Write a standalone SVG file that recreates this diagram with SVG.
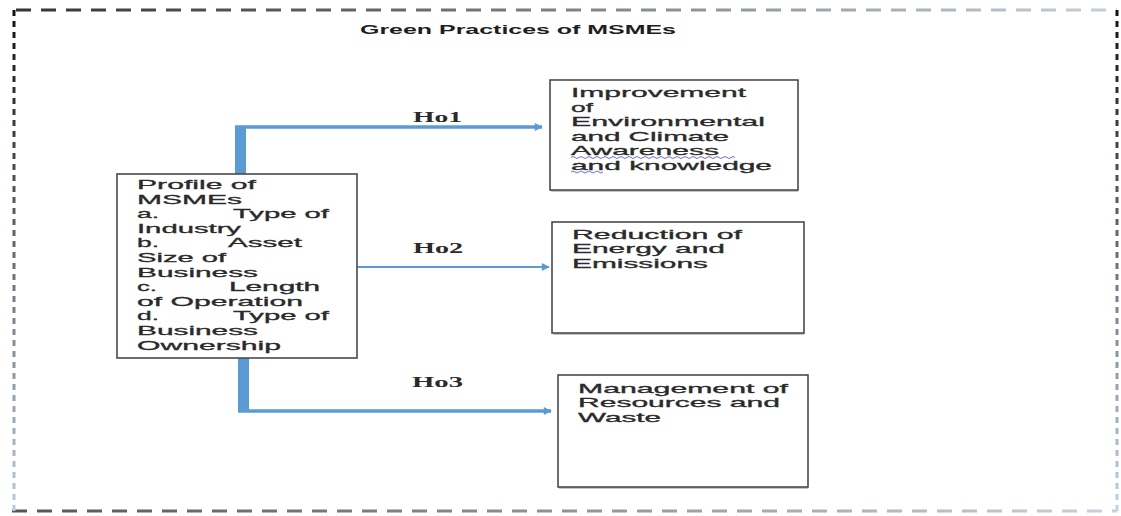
<svg xmlns="http://www.w3.org/2000/svg" width="1121" height="516" viewBox="0 0 1121 516">
<style>
.box{fill:#fff;stroke:#4a4a4a;stroke-width:1.6}
.shadow{fill:none;stroke:#c4c4c4;stroke-width:2}
.t{font-family:"Liberation Sans",Arial,sans-serif;font-size:13px;fill:#2a2a2a;stroke:#2a2a2a;stroke-width:0.3}
.ho{font-family:"Liberation Serif","Times New Roman",serif;font-size:14px;font-weight:bold;fill:#2a2a2a}
.title{font-family:"Liberation Sans",Arial,sans-serif;font-size:12px;font-weight:bold;fill:#1e1e1e}
.conn{stroke:#5b9bd5;fill:none}
.dash{fill:none;stroke-width:3}
</style>
<defs>
<linearGradient id="gTop" gradientUnits="userSpaceOnUse" x1="12" y1="0" x2="1117" y2="0"><stop offset="0" stop-color="#333"/><stop offset="1" stop-color="#c2d0dd"/></linearGradient>
<linearGradient id="gBot" gradientUnits="userSpaceOnUse" x1="12" y1="0" x2="1117" y2="0"><stop offset="0" stop-color="#555"/><stop offset="1" stop-color="#c8d2dc"/></linearGradient>
<linearGradient id="gLeft" gradientUnits="userSpaceOnUse" x1="0" y1="10" x2="0" y2="511"><stop offset="0" stop-color="#111"/><stop offset="1" stop-color="#b8cde2"/></linearGradient>
<linearGradient id="gRight" gradientUnits="userSpaceOnUse" x1="0" y1="10" x2="0" y2="511"><stop offset="0" stop-color="#111"/><stop offset="1" stop-color="#c0d4e8"/></linearGradient>
<marker id="arr" viewBox="0 0 10 10" refX="9" refY="5" markerWidth="10" markerHeight="8" markerUnits="userSpaceOnUse" orient="auto"><path d="M0,0 L10,5 L0,10 z" fill="#5b9bd5"/></marker>
</defs>

<g id="frame">
<path class="dash" d="M16,10 H1117" stroke="url(#gTop)" stroke-width="2.5" stroke-dasharray="15 10"/>
<path class="dash" d="M12,511 H1117" stroke="url(#gBot)" stroke-dasharray="15 10"/>
<path class="dash" d="M14,10 V511" stroke="url(#gLeft)" stroke-dasharray="6 5"/>
<path class="dash" d="M1117,10 V511" stroke="url(#gRight)" stroke-dasharray="6 5"/>
<text class="title" x="360" y="34" textLength="316" lengthAdjust="spacingAndGlyphs">Green Practices of MSMEs</text>
</g>

<g id="connectors">
<rect x="235" y="126" width="11" height="50" fill="#5b9bd5"/>
<rect x="238" y="356" width="11" height="56" fill="#5b9bd5"/>
<path class="conn" d="M235,127 H542" stroke-width="3.5" marker-end="url(#arr)"/>
<path class="conn" d="M357,267 H549" stroke-width="2" marker-end="url(#arr)"/>
<path class="conn" d="M238,411 H551" stroke-width="3.5" marker-end="url(#arr)"/>
<text class="ho" x="413" y="122" textLength="49" lengthAdjust="spacingAndGlyphs">Ho1</text>
<text class="ho" x="413" y="253" textLength="50" lengthAdjust="spacingAndGlyphs">Ho2</text>
<text class="ho" x="412" y="387" textLength="51" lengthAdjust="spacingAndGlyphs">Ho3</text>
</g>

<g id="profile">
<rect class="box" x="117" y="174" width="240" height="184"/>
<text class="t">
<tspan x="137" y="189" textLength="119" lengthAdjust="spacingAndGlyphs">Profile of</tspan>
<tspan x="137" y="203.6" textLength="105" lengthAdjust="spacingAndGlyphs">MSMEs</tspan>
<tspan x="137" y="218.2" textLength="22" lengthAdjust="spacingAndGlyphs">a.</tspan>
<tspan x="233" y="218.2" textLength="96" lengthAdjust="spacingAndGlyphs">Type of</tspan>
<tspan x="137" y="232.8" textLength="104" lengthAdjust="spacingAndGlyphs">Industry</tspan>
<tspan x="137" y="247.4" textLength="22" lengthAdjust="spacingAndGlyphs">b.</tspan>
<tspan x="228" y="247.4" textLength="74" lengthAdjust="spacingAndGlyphs">Asset</tspan>
<tspan x="137" y="262" textLength="89" lengthAdjust="spacingAndGlyphs">Size of</tspan>
<tspan x="137" y="276.6" textLength="121" lengthAdjust="spacingAndGlyphs">Business</tspan>
<tspan x="137" y="291.2" textLength="20" lengthAdjust="spacingAndGlyphs">c.</tspan>
<tspan x="229" y="291.2" textLength="91" lengthAdjust="spacingAndGlyphs">Length</tspan>
<tspan x="137" y="305.8" textLength="166" lengthAdjust="spacingAndGlyphs">of Operation</tspan>
<tspan x="137" y="320.4" textLength="22" lengthAdjust="spacingAndGlyphs">d.</tspan>
<tspan x="233" y="320.4" textLength="96" lengthAdjust="spacingAndGlyphs">Type of</tspan>
<tspan x="137" y="335" textLength="121" lengthAdjust="spacingAndGlyphs">Business</tspan>
<tspan x="137" y="349.6" textLength="144" lengthAdjust="spacingAndGlyphs">Ownership</tspan>
</text>
</g>

<g id="improvement">
<path class="shadow" d="M551,191 H798"/>
<rect class="box" x="550" y="80" width="248" height="110"/>
<text class="t">
<tspan x="571" y="97" textLength="175" lengthAdjust="spacingAndGlyphs">Improvement</tspan>
<tspan x="571" y="111.5" textLength="22" lengthAdjust="spacingAndGlyphs">of</tspan>
<tspan x="571" y="126" textLength="194" lengthAdjust="spacingAndGlyphs">Environmental</tspan>
<tspan x="571" y="140.5" textLength="158" lengthAdjust="spacingAndGlyphs">and Climate</tspan>
<tspan x="571" y="155" textLength="148" lengthAdjust="spacingAndGlyphs">Awareness</tspan>
<tspan x="571" y="169.5" textLength="201" lengthAdjust="spacingAndGlyphs">and knowledge</tspan>
</text>
<path d="M571,157.5 q2,-2 4,0 t4,0 t4,0 t4,0 t4,0 t4,0 t4,0 t4,0 t4,0 t4,0 t4,0 t4,0 t4,0 t4,0 t4,0 t4,0 t4,0 t4,0 t4,0 t4,0 t4,0 t4,0 t4,0 t4,0 t4,0 t4,0 t4,0 t4,0 t4,0 t4,0 t4,0 t4,0 t4,0 t4,0 t4,0 t4,0 t4,0 t4,0 t4,0 t4,0 t4,0" fill="none" stroke="#5460e0" stroke-width="0.9"/>
<path d="M571,172 q2,-2 4,0 t4,0 t4,0 t4,0 t4,0 t4,0 t4,0 t4,0" fill="none" stroke="#5460e0" stroke-width="0.9"/>
</g>

<g id="reduction">
<path class="shadow" d="M553,334 H804"/>
<rect class="box" x="552" y="222" width="252" height="111"/>
<text class="t">
<tspan x="572" y="238.5" textLength="170" lengthAdjust="spacingAndGlyphs">Reduction of</tspan>
<tspan x="572" y="253" textLength="153" lengthAdjust="spacingAndGlyphs">Energy and</tspan>
<tspan x="572" y="267.5" textLength="136" lengthAdjust="spacingAndGlyphs">Emissions</tspan>
</text>
</g>

<g id="management">
<path class="shadow" d="M559,488 H808"/>
<rect class="box" x="558" y="375" width="250" height="112"/>
<text class="t">
<tspan x="578" y="392.5" textLength="210" lengthAdjust="spacingAndGlyphs">Management of</tspan>
<tspan x="578" y="407" textLength="202" lengthAdjust="spacingAndGlyphs">Resources and</tspan>
<tspan x="578" y="421.5" textLength="83" lengthAdjust="spacingAndGlyphs">Waste</tspan>
</text>
</g>
</svg>
